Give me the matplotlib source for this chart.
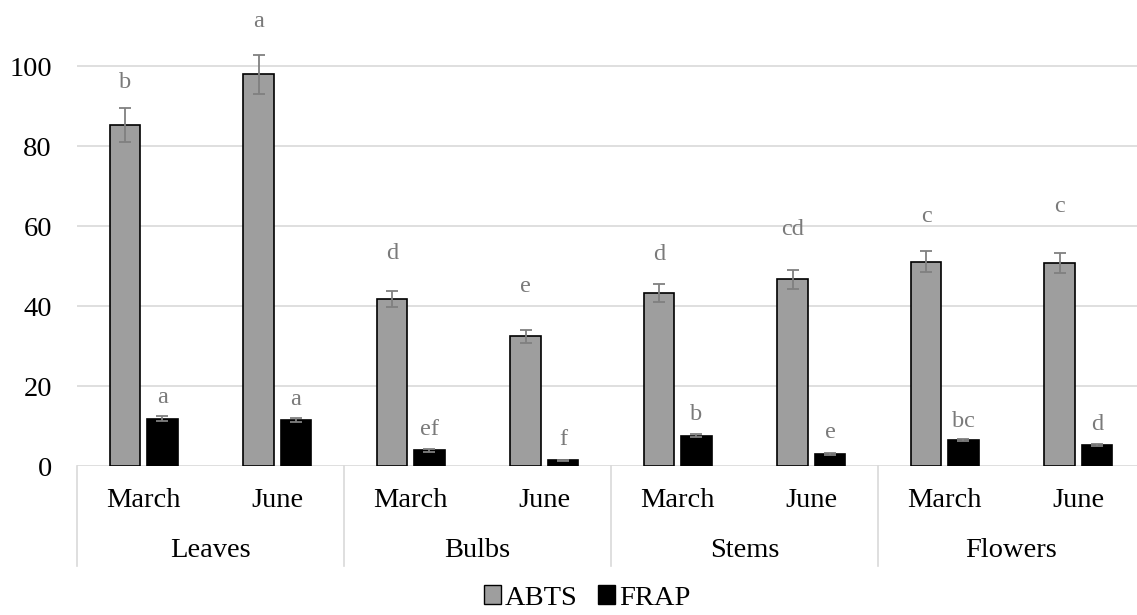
import numpy as np
import matplotlib
matplotlib.use("Agg")
import matplotlib.pyplot as plt
from matplotlib.patches import Patch

plt.rcParams['font.family'] = ['Liberation Serif', 'DejaVu Serif']

organs = ['Leaves', 'Bulbs', 'Stems', 'Flowers']
months = ['March', 'June']

# ABTS and FRAP means with standard errors, ordered organ by organ (March, June)
abts = [85.3, 97.9, 41.7, 32.4, 43.3, 46.7, 51.1, 50.8]
abts_err = [4.2, 4.9, 2.0, 1.6, 2.2, 2.4, 2.6, 2.5]
frap = [11.8, 11.4, 3.9, 1.4, 7.6, 3.0, 6.5, 5.2]
frap_err = [0.6, 0.5, 0.3, 0.2, 0.3, 0.2, 0.3, 0.2]

# significance letters and the height of their baselines
abts_letters = ['b', 'a', 'd', 'e', 'd', 'cd', 'c', 'c']
abts_letter_y = [94.6, 109.8, 51.8, 43.6, 51.5, 57.8, 61.1, 63.6]
frap_letters = ['a', 'a', 'ef', 'f', 'b', 'e', 'bc', 'd']
frap_letter_y = [15.7, 15.3, 7.8, 5.3, 11.5, 6.9, 9.8, 9.0]

grey = '#9e9e9e'
err_col = '#808080'
grid_col = '#d9d9d9'

fig = plt.figure(figsize=(11.37, 6.15), dpi=100)
ax = fig.add_axes([77 / 1137, 149 / 615, 1068 / 1137, 460 / 615])

x = np.arange(len(abts)) + 0.5
w = 0.23
off = 0.14

ax.bar(x - off, abts, w, color=grey, edgecolor='black', linewidth=1.2, zorder=3)
ax.bar(x + off, frap, w, color='black', edgecolor='black', linewidth=1.2, zorder=3)
ax.errorbar(x - off, abts, yerr=abts_err, fmt='none', ecolor=err_col,
            elinewidth=1.3, capsize=4.3, capthick=1.3, zorder=4)
ax.errorbar(x + off, frap, yerr=frap_err, fmt='none', ecolor=err_col,
            elinewidth=1.3, capsize=4.3, capthick=1.3, zorder=4)

for xi, t, y in zip(x - off, abts_letters, abts_letter_y):
    ax.text(xi, y, t, ha='center', va='baseline', fontsize=17.5, color='#7a7a7a')
for xi, t, y in zip(x + off, frap_letters, frap_letter_y):
    ax.text(xi, y, t, ha='center', va='baseline', fontsize=17.5, color='#7a7a7a')

ax.set_xlim(0, len(abts))
ax.set_ylim(0, 115)
ax.set_yticks(range(0, 101, 20))
for g in range(0, 101, 20):
    ax.axhline(g, color=grid_col, linewidth=1.2, zorder=1)
ax.tick_params(axis='y', length=0, labelsize=20.5, pad=18)
ax.set_xticks([])
for s in ax.spines.values():
    s.set_visible(False)

# two-level category axis below the plot
trans = ax.get_xaxis_transform()
for i in range(len(organs) + 1):
    ax.plot([2 * i, 2 * i], [0, -0.217], transform=trans, color=grid_col,
            linewidth=1.2, clip_on=False)
for i, xi in enumerate(x):
    ax.text(xi, -0.074, months[i % 2], transform=trans, ha='center', va='center',
            fontsize=20.5)
for i, org in enumerate(organs):
    ax.text(2 * i + 1, -0.183, org, transform=trans, ha='center', va='center',
            fontsize=20.5)

handles = [Patch(facecolor=grey, edgecolor='black', linewidth=1.0),
           Patch(facecolor='black', edgecolor='black')]
fig.legend(handles, ['ABTS', 'FRAP'], loc='center', bbox_to_anchor=(587 / 1137, 1 - 598 / 615),
           ncol=2, frameon=False, fontsize=20.5, handlelength=0.6, handleheight=0.6,
           handletextpad=0.15, columnspacing=0.7)

fig.savefig('out.png', dpi=100)
